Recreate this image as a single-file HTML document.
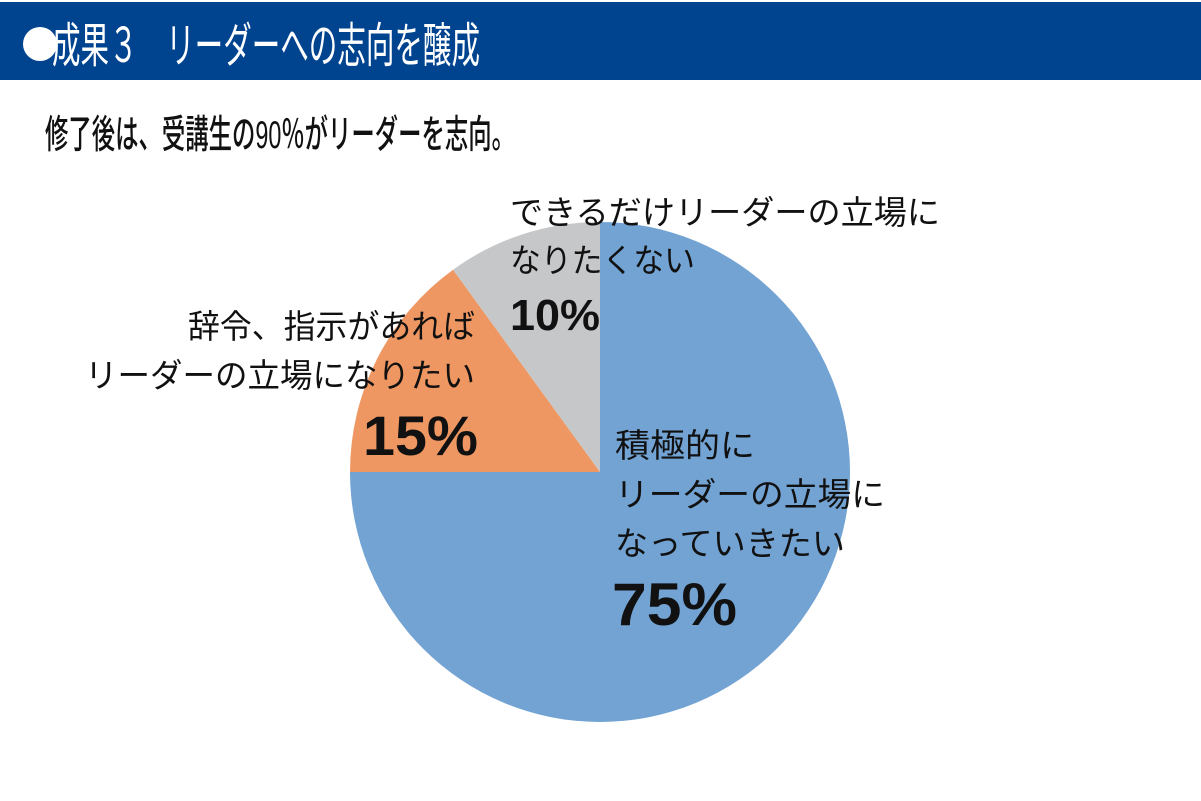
<!DOCTYPE html>
<html><head><meta charset="utf-8"><style>
html,body{margin:0;padding:0;background:#fff;}
svg{display:block;font-family:"Liberation Sans","Noto Sans CJK JP",sans-serif;}
</style></head><body>
<svg width="1201" height="801" viewBox="0 0 1201 801">
<rect x="0" y="0" width="1201" height="801" fill="#fff"/>
<rect x="0" y="2" width="1201" height="78" fill="#00438f"/>
<circle cx="40" cy="44" r="17" fill="#fff"/>
<text x="52" y="62" font-size="48" fill="#fff" textLength="428" lengthAdjust="spacingAndGlyphs">成果３　リーダーへの志向を醸成</text>
<text x="45" y="148" font-size="39" font-weight="500" fill="#111" textLength="470" lengthAdjust="spacingAndGlyphs">修了後は、受講生の90％がリーダーを志向。</text>
<g id="pie"></g>
<g>
<text x="510" y="224" font-size="33" fill="#111" textLength="430" lengthAdjust="spacingAndGlyphs">できるだけリーダーの立場に</text>
<text x="510" y="272" font-size="33" fill="#111" textLength="185" lengthAdjust="spacingAndGlyphs">なりたくない</text>
<text x="510" y="330" font-size="44" font-weight="bold" fill="#111" textLength="90" lengthAdjust="spacingAndGlyphs">10%</text>
</g>
<g>
<text x="188" y="338" font-size="33" fill="#111" textLength="287" lengthAdjust="spacingAndGlyphs">辞令、指示があれば</text>
<text x="85" y="387" font-size="33" fill="#111" textLength="390" lengthAdjust="spacingAndGlyphs">リーダーの立場になりたい</text>
<text x="363" y="455" font-size="56" font-weight="bold" fill="#111" textLength="115" lengthAdjust="spacingAndGlyphs">15%</text>
</g>
<g>
<text x="615" y="457" font-size="33" fill="#111" textLength="140" lengthAdjust="spacingAndGlyphs">積極的に</text>
<text x="615" y="506" font-size="33" fill="#111" textLength="270" lengthAdjust="spacingAndGlyphs">リーダーの立場に</text>
<text x="615" y="555" font-size="33" fill="#111" textLength="230" lengthAdjust="spacingAndGlyphs">なっていきたい</text>
<text x="612" y="625" font-size="60" font-weight="bold" fill="#111" textLength="125" lengthAdjust="spacingAndGlyphs">75%</text>
</g>
<script>
const categories=["積極的にリーダーの立場になっていきたい","辞令、指示があればリーダーの立場になりたい","できるだけリーダーの立場になりたくない"];
const values=[75,15,10];
const colors=["#72a3d3","#ef9762","#c6c7c9"];
const names=["slice-active","slice-by-order","slice-not-want"];
(function(){
const g=document.getElementById('pie');
const cx=600,cy=472,r=250;
const total=values.reduce((a,b)=>a+b,0);
let a0=0;
values.forEach((v,i)=>{
 const a1=a0+v/total*Math.PI*2;
 const x0=cx+r*Math.sin(a0),y0=cy-r*Math.cos(a0);
 const x1=cx+r*Math.sin(a1),y1=cy-r*Math.cos(a1);
 const large=(a1-a0)>Math.PI?1:0;
 const p=document.createElementNS('http://www.w3.org/2000/svg','path');
 p.setAttribute('d',`M${cx},${cy}L${x0},${y0}A${r},${r} 0 ${large} 1 ${x1},${y1}Z`);
 p.setAttribute('fill',colors[i]);
 
 
 g.appendChild(p);
 a0=a1;
});
})();
</script>
</svg>
</body></html>
